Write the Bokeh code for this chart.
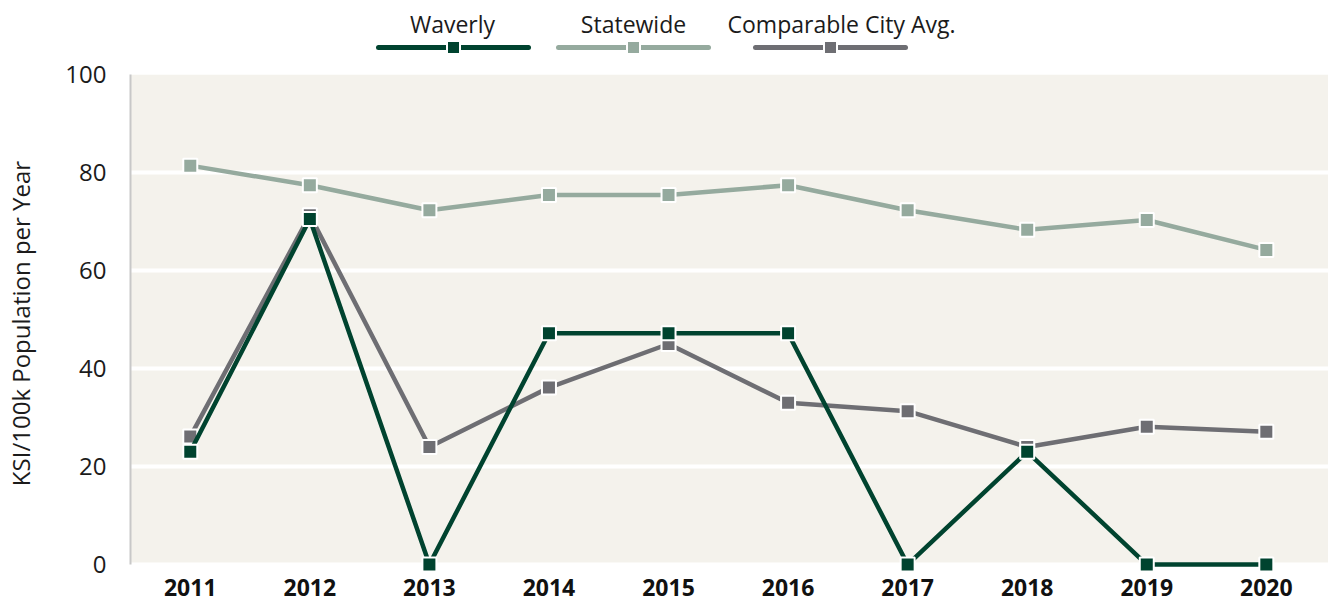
from bokeh.plotting import figure
from bokeh.models import Range1d, FixedTicker, BoxAnnotation, ColumnDataSource
from bokeh.layouts import column
from bokeh.embed import file_html
from bokeh.resources import INLINE
from bokeh.core.properties import value

# ---- data ----
years = ["2011", "2012", "2013", "2014", "2015", "2016", "2017", "2018", "2019", "2020"]
waverly = [23.0, 70.5, 0.0, 47.2, 47.2, 47.2, 0.0, 23.0, 0.0, 0.0]
statewide = [81.4, 77.4, 72.3, 75.4, 75.4, 77.4, 72.3, 68.3, 70.3, 64.2]
comparable = [26.1, 71.3, 24.0, 36.1, 45.0, 33.0, 31.3, 24.0, 28.1, 27.1]
series_names = ["Waverly", "Statewide", "Comparable City Avg."]
y_ticks = [0, 20, 40, 60, 80, 100]

# ---- style ----
C_WAV = "#00432f"
C_STATE = "#95aa9e"
C_COMP = "#6e6e73"
BG = "#f4f2ec"
FONT = "Open Sans"
TXT = "#1b1b1b"

idx = list(range(len(years)))

# ---- legend figure (frame aligned with main frame: page x 130..1328) ----
LEG_H = 56
leg = figure(width=1328, height=LEG_H, x_range=Range1d(130, 1328), y_range=Range1d(LEG_H, 0),
             output_backend="svg", toolbar_location=None,
             min_border=0, min_border_left=130, min_border_right=0,
             min_border_top=0, min_border_bottom=0)
leg.axis.visible = False
leg.grid.visible = False
leg.outline_line_color = None

leg_centers = [453, 633, 830]
leg_text_x = [452, 633, 841]
leg_colors = [C_WAV, C_STATE, C_COMP]
for cx, tx, col, name in zip(leg_centers, leg_text_x, leg_colors, series_names):
    leg.line([cx - 75, cx + 75], [47, 47], line_color=col, line_width=5, line_cap="round")
    leg.scatter([cx], [47], marker="square", size=13, fill_color=col,
                line_color="white", line_width=2)
    leg.text([tx], [23], text=[name], text_align="center", text_baseline="middle",
             text_font=value(FONT), text_font_size="23px", text_color=TXT)

# ---- main figure ----
p = figure(width=1328, height=605 - LEG_H, x_range=Range1d(-0.5, 9.52), y_range=Range1d(-1.63, 100),
           output_backend="svg", toolbar_location=None,
           min_border_left=130, min_border_right=0, min_border_top=18, min_border_bottom=33)
p.background_fill_color = "white"
p.border_fill_color = "white"
p.outline_line_color = None

p.add_layout(BoxAnnotation(bottom=0.2, top=100, fill_color=BG, fill_alpha=1,
                           line_color=None, level="image"))

p.ygrid.ticker = FixedTicker(ticks=y_ticks)
p.ygrid.grid_line_color = "white"
p.ygrid.grid_line_width = 4
p.ygrid.level = "underlay"
p.xgrid.visible = False

p.xaxis.ticker = FixedTicker(ticks=idx)
p.xaxis.major_label_overrides = {i: y for i, y in zip(idx, years)}
p.xaxis.axis_line_color = None
p.xaxis.major_tick_line_color = None
p.xaxis.minor_tick_line_color = None
p.xaxis.major_label_text_font = FONT
p.xaxis.major_label_text_font_style = "bold"
p.xaxis.major_label_text_font_size = "23px"
p.xaxis.major_label_text_color = "#111111"
p.xaxis.major_label_standoff = 0

p.yaxis.ticker = FixedTicker(ticks=y_ticks)
p.yaxis.bounds = (0, 100)
p.yaxis.axis_line_color = "#c8c8c8"
p.yaxis.axis_line_width = 2
p.yaxis.major_tick_line_color = None
p.yaxis.minor_tick_line_color = None
p.yaxis.major_label_text_font = FONT
p.yaxis.major_label_text_font_size = "24px"
p.yaxis.major_label_text_color = TXT
p.yaxis.major_label_standoff = 18
p.yaxis.axis_label = "KSI/100k Population per Year"
p.yaxis.axis_label_text_font = FONT
p.yaxis.axis_label_text_font_style = "normal"
p.yaxis.axis_label_text_font_size = "24px"
p.yaxis.axis_label_text_color = TXT
p.yaxis.axis_label_standoff = 25

src = ColumnDataSource(dict(x=idx, w=waverly, s=statewide, c=comparable))
for col, color in [("s", C_STATE), ("c", C_COMP), ("w", C_WAV)]:
    p.line("x", col, source=src, line_color=color, line_width=4.5)
    p.scatter("x", col, source=src, marker="square", size=14, fill_color=color,
              line_color="white", line_width=2)

layout = column(leg, p, spacing=0)
open("out.html", "w").write(file_html(layout, INLINE))
